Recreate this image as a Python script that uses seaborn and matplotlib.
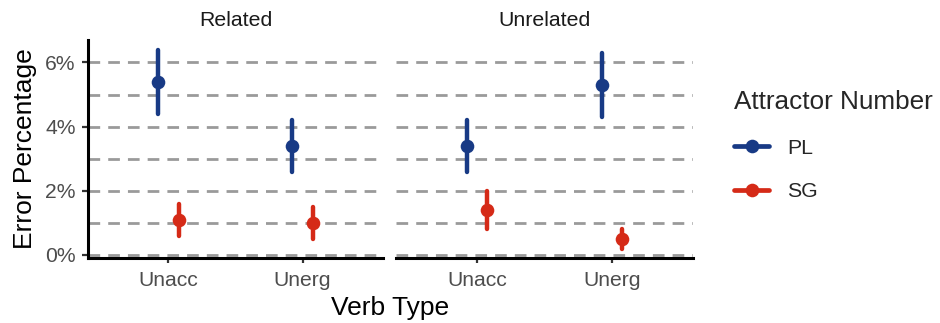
import matplotlib
matplotlib.use("Agg")
import matplotlib.pyplot as plt
from matplotlib.lines import Line2D
from matplotlib.ticker import MultipleLocator, FuncFormatter
import seaborn as sns
import pandas as pd

# ---- data ----
verb_types = ["Unacc", "Unerg"]
primes = ["Related", "Unrelated"]
attractors = ["PL", "SG"]

rel_pl_mid = [5.4, 3.4]
rel_pl_lo = [4.4, 2.6]
rel_pl_hi = [6.4, 4.2]
rel_sg_mid = [1.1, 1.0]
rel_sg_lo = [0.6, 0.5]
rel_sg_hi = [1.6, 1.5]

unr_pl_mid = [3.4, 5.3]
unr_pl_lo = [2.6, 4.3]
unr_pl_hi = [4.2, 6.3]
unr_sg_mid = [1.4, 0.5]
unr_sg_lo = [0.8, 0.2]
unr_sg_hi = [2.0, 0.8]

y_ticks = [0, 2, 4, 6]
colors = {"PL": "#183A85", "SG": "#D52A17"}

series = {
    ("Related", "PL"): (rel_pl_lo, rel_pl_mid, rel_pl_hi),
    ("Related", "SG"): (rel_sg_lo, rel_sg_mid, rel_sg_hi),
    ("Unrelated", "PL"): (unr_pl_lo, unr_pl_mid, unr_pl_hi),
    ("Unrelated", "SG"): (unr_sg_lo, unr_sg_mid, unr_sg_hi),
}
rows = []
for (prime, att), (lo, mid, hi) in series.items():
    for i, v in enumerate(verb_types):
        for val in (lo[i], mid[i], hi[i]):
            rows.append({"Prime": prime, "Attractor": att, "Verb": v, "Err": val})
df = pd.DataFrame(rows)

# ---- style ----
sns.set_style("white")
plt.rcParams["font.family"] = ["Liberation Sans", "DejaVu Sans"]

W, H = 940, 323
fig = plt.figure(figsize=(W / 100, H / 100), dpi=100)
bottom = 1 - 257.5 / H
height = (257.5 - 40) / H
ax1 = fig.add_axes([88 / W, bottom, (383 - 88) / W, height])
ax2 = fig.add_axes([396 / W, bottom, (693 - 396) / W, height])

grid_kw = dict(color="#9A9A9A", linewidth=2.0, linestyle=(0, (4.2, 2.9)))

for ax, prime in zip([ax1, ax2], primes):
    sub = df[df["Prime"] == prime]
    sns.pointplot(data=sub, x="Verb", y="Err", hue="Attractor",
                  order=verb_types, hue_order=attractors, palette=colors,
                  estimator="median", errorbar=("pi", 100), dodge=0.15,
                  linestyle="none", markers="o", markersize=9.8,
                  markeredgewidth=0, err_kws={"linewidth": 3.2},
                  legend=False, ax=ax)
    ax.set_xlim(-0.6, 1.6)
    ax.set_ylim(-0.08, 6.70)
    ax.set_axisbelow(True)
    ax.yaxis.set_major_locator(MultipleLocator(2))
    ax.yaxis.set_minor_locator(MultipleLocator(1))
    ax.grid(False)
    ax.yaxis.grid(True, which="both", **grid_kw)
    ax.xaxis.grid(False)
    ax.set_xlabel("")
    ax.set_ylabel("")
    ax.set_title(prime, fontsize=15.3, pad=10, color="#1A1A1A")
    for s in ["top", "right"]:
        ax.spines[s].set_visible(False)
    ax.spines["bottom"].set_linewidth(2.2)
    ax.spines["bottom"].set_color("black")
    ax.tick_params(axis="x", which="major", length=3.5, width=1.6, color="#333333",
                   labelsize=15.2, labelcolor="#4D4D4D", pad=6.5, bottom=True)
    ax.tick_params(axis="y", which="minor", length=0)

ax1.spines["left"].set_linewidth(2.2)
ax1.spines["left"].set_color("black")
ax1.tick_params(axis="y", which="major", length=4, width=1.6, color="#333333",
                labelsize=15.2, labelcolor="#4D4D4D", pad=5, left=True)
ax1.yaxis.set_major_formatter(FuncFormatter(lambda v, p: f"{v:.0f}%"))
ax1.set_ylabel("Error Percentage", fontsize=19, color="black")
ax1.yaxis.set_label_coords(-0.172, 0.5)

ax2.spines["left"].set_visible(False)
ax2.tick_params(axis="y", which="both", left=False, labelleft=False)

fig.text(390 / W, 1 - 315 / H, "Verb Type", ha="center", va="baseline",
         fontsize=19, color="black")

handles = [Line2D([0], [0], color=colors[a], lw=3.4, marker="o", markersize=9.8,
                  markeredgewidth=0) for a in attractors]
leg = fig.legend(handles, attractors, loc="upper left",
                 bbox_to_anchor=(715 / W, 1 - 71 / H), frameon=False,
                 title="Attractor Number", title_fontsize=18.8, fontsize=15.3,
                 handlelength=1.65, labelspacing=1.15, handletextpad=0.85)
leg._legend_box.align = "left"

fig.savefig("out.png", dpi=100)
